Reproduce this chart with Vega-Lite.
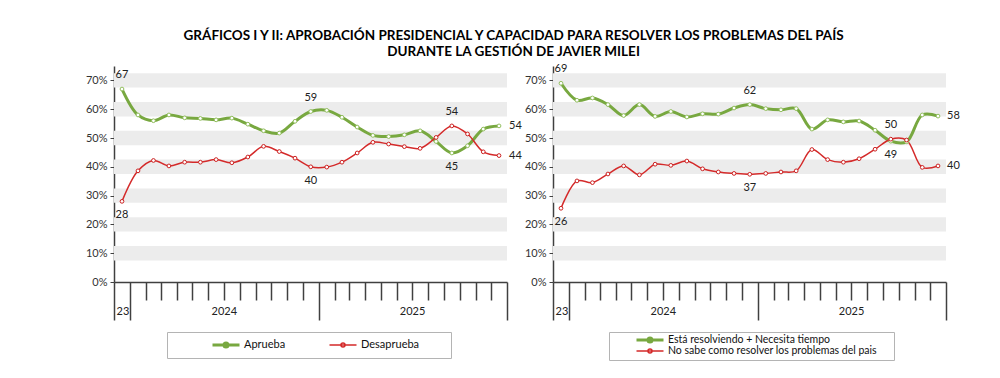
{
  "$schema": "https://vega.github.io/schema/vega-lite/v6.json",
  "padding": {"left": 85, "top": 28, "right": 5, "bottom": 5},
  "title": {
    "text": ["GRÁFICOS I Y II: APROBACIÓN PRESIDENCIAL Y CAPACIDAD PARA RESOLVER LOS PROBLEMAS DEL PAÍS", "DURANTE LA GESTIÓN DE JAVIER MILEI"],
    "font": "Lato", "fontSize": 13.5, "fontWeight": "bold", "color": "#000", "anchor": "middle", "lineHeight": 16, "offset": 5, "dx": -9
  },
  "config": {"view": {"stroke": null}, "text": {"font": "Lato"},
    "axisY": {"values": [0, 10, 20, 30, 40, 50, 60, 70], "labelExpr": "datum.value + '%'", "grid": false, "labelOverlap": false,
      "domainColor": "#404040", "domainWidth": 1.5, "tickColor": "#404040", "tickWidth": 1, "tickSize": 4,
      "labelPadding": 3, "labelFont": "Lato", "labelFontSize": 11, "labelColor": "#333", "title": null}},
  "resolve": {"scale": {"color": "independent", "stroke": "independent", "strokeWidth": "independent", "x": "independent", "y": "independent"}, "legend": {"color": "independent"}},
  "spacing": 2,
  "hconcat": [
    {
      "width": 393, "height": 216,
      "data": {"values": [
        {"fecha": "2023-12-01", "serie": "Aprueba", "valor": 67},
        {"fecha": "2024-01-01", "serie": "Aprueba", "valor": 58},
        {"fecha": "2024-02-01", "serie": "Aprueba", "valor": 56},
        {"fecha": "2024-03-01", "serie": "Aprueba", "valor": 58},
        {"fecha": "2024-04-01", "serie": "Aprueba", "valor": 57},
        {"fecha": "2024-05-01", "serie": "Aprueba", "valor": 56.8},
        {"fecha": "2024-06-01", "serie": "Aprueba", "valor": 56.3},
        {"fecha": "2024-07-01", "serie": "Aprueba", "valor": 56.9},
        {"fecha": "2024-08-01", "serie": "Aprueba", "valor": 54.8},
        {"fecha": "2024-09-01", "serie": "Aprueba", "valor": 52.5},
        {"fecha": "2024-10-01", "serie": "Aprueba", "valor": 51.7},
        {"fecha": "2024-11-01", "serie": "Aprueba", "valor": 55.8},
        {"fecha": "2024-12-01", "serie": "Aprueba", "valor": 59.2},
        {"fecha": "2025-01-01", "serie": "Aprueba", "valor": 59.6},
        {"fecha": "2025-02-01", "serie": "Aprueba", "valor": 57.2},
        {"fecha": "2025-03-01", "serie": "Aprueba", "valor": 53.8},
        {"fecha": "2025-04-01", "serie": "Aprueba", "valor": 50.9},
        {"fecha": "2025-05-01", "serie": "Aprueba", "valor": 50.5},
        {"fecha": "2025-06-01", "serie": "Aprueba", "valor": 51.1},
        {"fecha": "2025-07-01", "serie": "Aprueba", "valor": 52.5},
        {"fecha": "2025-08-01", "serie": "Aprueba", "valor": 48.8},
        {"fecha": "2025-09-01", "serie": "Aprueba", "valor": 44.8},
        {"fecha": "2025-10-01", "serie": "Aprueba", "valor": 47.3},
        {"fecha": "2025-11-01", "serie": "Aprueba", "valor": 53.1},
        {"fecha": "2025-12-01", "serie": "Aprueba", "valor": 54.2},
        {"fecha": "2023-12-01", "serie": "Desaprueba", "valor": 28},
        {"fecha": "2024-01-01", "serie": "Desaprueba", "valor": 38.6},
        {"fecha": "2024-02-01", "serie": "Desaprueba", "valor": 42.2},
        {"fecha": "2024-03-01", "serie": "Desaprueba", "valor": 40.3},
        {"fecha": "2024-04-01", "serie": "Desaprueba", "valor": 41.6},
        {"fecha": "2024-05-01", "serie": "Desaprueba", "valor": 41.6},
        {"fecha": "2024-06-01", "serie": "Desaprueba", "valor": 42.5},
        {"fecha": "2024-07-01", "serie": "Desaprueba", "valor": 41.4},
        {"fecha": "2024-08-01", "serie": "Desaprueba", "valor": 43.4},
        {"fecha": "2024-09-01", "serie": "Desaprueba", "valor": 47.1},
        {"fecha": "2024-10-01", "serie": "Desaprueba", "valor": 45.3},
        {"fecha": "2024-11-01", "serie": "Desaprueba", "valor": 43},
        {"fecha": "2024-12-01", "serie": "Desaprueba", "valor": 40},
        {"fecha": "2025-01-01", "serie": "Desaprueba", "valor": 39.9},
        {"fecha": "2025-02-01", "serie": "Desaprueba", "valor": 41.6},
        {"fecha": "2025-03-01", "serie": "Desaprueba", "valor": 44.8},
        {"fecha": "2025-04-01", "serie": "Desaprueba", "valor": 48.5},
        {"fecha": "2025-05-01", "serie": "Desaprueba", "valor": 47.9},
        {"fecha": "2025-06-01", "serie": "Desaprueba", "valor": 47},
        {"fecha": "2025-07-01", "serie": "Desaprueba", "valor": 46.4},
        {"fecha": "2025-08-01", "serie": "Desaprueba", "valor": 50.2},
        {"fecha": "2025-09-01", "serie": "Desaprueba", "valor": 54.2},
        {"fecha": "2025-10-01", "serie": "Desaprueba", "valor": 51.4},
        {"fecha": "2025-11-01", "serie": "Desaprueba", "valor": 45.2},
        {"fecha": "2025-12-01", "serie": "Desaprueba", "valor": 43.9}
      ]},
      "layer": [
        {
          "data": {"values": [
            {"lo": 7.5, "hi": 12.5}, {"lo": 17.5, "hi": 22.5}, {"lo": 27.5, "hi": 32.5}, {"lo": 37.5, "hi": 42.5},
            {"lo": 47.5, "hi": 52.5}, {"lo": 57.5, "hi": 62.5}, {"lo": 67.5, "hi": 72.5}
          ]},
          "mark": {"type": "rect", "color": "#ececec"},
          "encoding": {
            "y": {"field": "lo", "type": "quantitative", "title": null, "scale": {"domain": [0, 75], "nice": false}},
            "y2": {"field": "hi"}
          }
        },
        {
          "mark": {"type": "line", "interpolate": "catmull-rom"},
          "encoding": {
            "x": {"field": "fecha", "type": "temporal", "timeUnit": "utcyearmonth", "bandPosition": 0.5, "title": null,
              "scale": {"type": "utc", "domain": [{"year": 2023, "month": 12, "date": 1, "utc": true}, {"year": 2026, "month": 1, "date": 1, "utc": true}]},
              "axis": {"tickCount": {"interval": "month", "step": 1}, "grid": false,
                "domainColor": "#404040", "domainWidth": 1.5, "tickColor": "#404040", "tickWidth": 1.5,
                "tickSize": {"condition": {"test": "utcmonth(datum.value)==0 || utcyear(datum.value)==2023", "value": 38}, "value": 18},
                "labelExpr": "utcyear(datum.value)==2023 ? '23' : (utcmonth(datum.value)==6 ? utcFormat(datum.value,'%Y') : '')",
                "labelAlign": {"condition": {"test": "utcyear(datum.value)==2023", "value": "left"}, "value": "center"},
                "labelOffset": {"condition": {"test": "utcyear(datum.value)==2023", "value": 2}, "value": 0},
                "labelPadding": {"condition": {"test": "utcyear(datum.value)==2023", "value": -15}, "value": 5},
                "labelOverlap": false, "labelFlush": false, "labelBound": false,
                "labelFont": "Lato", "labelFontSize": 11, "labelColor": "#222"}},
            "y": {"field": "valor", "type": "quantitative", "title": null},
            "color": {"field": "serie", "type": "nominal",
              "scale": {"domain": ["Aprueba", "Desaprueba"], "range": ["#78a840", "#d42a2a"]},
              "legend": {"orient": "none", "legendX": 53, "legendY": 266, "direction": "horizontal", "columns": 2, "title": null,
                "symbolType": "M-1,0L1,0M0.15,0A0.15,0.15,0,1,1,-0.15,0A0.15,0.15,0,1,1,0.15,0",
                "symbolSize": 729, "symbolStrokeWidth": 2, "labelFont": "Lato", "labelFontSize": 11, "labelColor": "#111", "labelLimit": 400,
                "strokeColor": "#b4b4b4", "padding": 7, "symbolOffset": 37, "columnPadding": 5, "labelOffset": 3, "clipHeight": 12,
                "labelExpr": "datum.label == 'Desaprueba' ? datum.label + '\u2800\u2800\u2800' : datum.label",
                "encode": {"symbols": {"update": {"strokeWidth": {"signal": "datum.value == 'Aprueba' ? 2.5 : 1.5"}, "fill": {"value": "white"}}}}}},
            "strokeWidth": {"field": "serie", "type": "nominal", "scale": {"domain": ["Aprueba", "Desaprueba"], "range": [3, 1.5]}, "legend": null}
          }
        },
        {
          "mark": {"type": "point", "filled": true, "fill": "white", "size": 14, "strokeWidth": 1, "opacity": 1},
          "encoding": {
            "x": {"field": "fecha", "type": "temporal", "timeUnit": "utcyearmonth", "bandPosition": 0.5},
            "y": {"field": "valor", "type": "quantitative"},
            "stroke": {"field": "serie", "type": "nominal", "scale": {"domain": ["Aprueba", "Desaprueba"], "range": ["#93bf5f", "#cc2020"]}, "legend": null}
          }
        },
        {
          "data": {"values": [
            {"fecha": "2023-12-01", "valor": 67, "texto": "67", "pos": "arriba"},
            {"fecha": "2024-12-01", "valor": 59.2, "texto": "59", "pos": "arriba"},
            {"fecha": "2025-09-01", "valor": 54.2, "texto": "54", "pos": "arriba"},
            {"fecha": "2023-12-01", "valor": 28, "texto": "28", "pos": "abajo"},
            {"fecha": "2024-12-01", "valor": 40, "texto": "40", "pos": "abajo"},
            {"fecha": "2025-09-01", "valor": 44.8, "texto": "45", "pos": "abajo"},
            {"fecha": "2025-12-01", "valor": 54.2, "texto": "54", "pos": "derecha"},
            {"fecha": "2025-12-01", "valor": 43.9, "texto": "44", "pos": "derecha"}
          ]},
          "layer": [
            {"transform": [{"filter": "datum.pos == 'arriba'"}],
             "mark": {"type": "text", "dy": -14, "font": "Lato", "fontSize": 11, "color": "#222", "baseline": "middle"},
             "encoding": {"x": {"field": "fecha", "type": "temporal", "timeUnit": "utcyearmonth", "bandPosition": 0.5}, "y": {"field": "valor", "type": "quantitative"}, "text": {"field": "texto"}}},
            {"transform": [{"filter": "datum.pos == 'abajo'"}],
             "mark": {"type": "text", "dy": 14, "font": "Lato", "fontSize": 11, "color": "#222", "baseline": "middle"},
             "encoding": {"x": {"field": "fecha", "type": "temporal", "timeUnit": "utcyearmonth", "bandPosition": 0.5}, "y": {"field": "valor", "type": "quantitative"}, "text": {"field": "texto"}}},
            {"transform": [{"filter": "datum.pos == 'derecha'"}],
             "mark": {"type": "text", "dx": 10, "align": "left", "font": "Lato", "fontSize": 11, "color": "#222", "baseline": "middle"},
             "encoding": {"x": {"field": "fecha", "type": "temporal", "timeUnit": "utcyearmonth", "bandPosition": 0.5}, "y": {"field": "valor", "type": "quantitative"}, "text": {"field": "texto"}}}
          ]
        }
      ]
    },
    {
      "width": 393, "height": 216,
      "data": {"values": [
        {"fecha": "2023-12-01", "serie": "Está resolviendo + Necesita tiempo", "valor": 69},
        {"fecha": "2024-01-01", "serie": "Está resolviendo + Necesita tiempo", "valor": 63.1},
        {"fecha": "2024-02-01", "serie": "Está resolviendo + Necesita tiempo", "valor": 63.9},
        {"fecha": "2024-03-01", "serie": "Está resolviendo + Necesita tiempo", "valor": 61.6},
        {"fecha": "2024-04-01", "serie": "Está resolviendo + Necesita tiempo", "valor": 57.8},
        {"fecha": "2024-05-01", "serie": "Está resolviendo + Necesita tiempo", "valor": 61.6},
        {"fecha": "2024-06-01", "serie": "Está resolviendo + Necesita tiempo", "valor": 57.5},
        {"fecha": "2024-07-01", "serie": "Está resolviendo + Necesita tiempo", "valor": 59.2},
        {"fecha": "2024-08-01", "serie": "Está resolviendo + Necesita tiempo", "valor": 57.3},
        {"fecha": "2024-09-01", "serie": "Está resolviendo + Necesita tiempo", "valor": 58.4},
        {"fecha": "2024-10-01", "serie": "Está resolviendo + Necesita tiempo", "valor": 58.3},
        {"fecha": "2024-11-01", "serie": "Está resolviendo + Necesita tiempo", "valor": 60.4},
        {"fecha": "2024-12-01", "serie": "Está resolviendo + Necesita tiempo", "valor": 61.6},
        {"fecha": "2025-01-01", "serie": "Está resolviendo + Necesita tiempo", "valor": 60.2},
        {"fecha": "2025-02-01", "serie": "Está resolviendo + Necesita tiempo", "valor": 59.8},
        {"fecha": "2025-03-01", "serie": "Está resolviendo + Necesita tiempo", "valor": 60.2},
        {"fecha": "2025-04-01", "serie": "Está resolviendo + Necesita tiempo", "valor": 53.1},
        {"fecha": "2025-05-01", "serie": "Está resolviendo + Necesita tiempo", "valor": 56.3},
        {"fecha": "2025-06-01", "serie": "Está resolviendo + Necesita tiempo", "valor": 55.6},
        {"fecha": "2025-07-01", "serie": "Está resolviendo + Necesita tiempo", "valor": 55.9},
        {"fecha": "2025-08-01", "serie": "Está resolviendo + Necesita tiempo", "valor": 52.7},
        {"fecha": "2025-09-01", "serie": "Está resolviendo + Necesita tiempo", "valor": 48.9},
        {"fecha": "2025-10-01", "serie": "Está resolviendo + Necesita tiempo", "valor": 48.7},
        {"fecha": "2025-11-01", "serie": "Está resolviendo + Necesita tiempo", "valor": 58},
        {"fecha": "2025-12-01", "serie": "Está resolviendo + Necesita tiempo", "valor": 57.6},
        {"fecha": "2023-12-01", "serie": "No sabe como  resolver los problemas  del pais", "valor": 25.6},
        {"fecha": "2024-01-01", "serie": "No sabe como  resolver los problemas  del pais", "valor": 35.1},
        {"fecha": "2024-02-01", "serie": "No sabe como  resolver los problemas  del pais", "valor": 34.5},
        {"fecha": "2024-03-01", "serie": "No sabe como  resolver los problemas  del pais", "valor": 37.5},
        {"fecha": "2024-04-01", "serie": "No sabe como  resolver los problemas  del pais", "valor": 40.3},
        {"fecha": "2024-05-01", "serie": "No sabe como  resolver los problemas  del pais", "valor": 37.2},
        {"fecha": "2024-06-01", "serie": "No sabe como  resolver los problemas  del pais", "valor": 40.9},
        {"fecha": "2024-07-01", "serie": "No sabe como  resolver los problemas  del pais", "valor": 40.5},
        {"fecha": "2024-08-01", "serie": "No sabe como  resolver los problemas  del pais", "valor": 42},
        {"fecha": "2024-09-01", "serie": "No sabe como  resolver los problemas  del pais", "valor": 39.3},
        {"fecha": "2024-10-01", "serie": "No sabe como  resolver los problemas  del pais", "valor": 38.2},
        {"fecha": "2024-11-01", "serie": "No sabe como  resolver los problemas  del pais", "valor": 37.7},
        {"fecha": "2024-12-01", "serie": "No sabe como  resolver los problemas  del pais", "valor": 37.4},
        {"fecha": "2025-01-01", "serie": "No sabe como  resolver los problemas  del pais", "valor": 37.7},
        {"fecha": "2025-02-01", "serie": "No sabe como  resolver los problemas  del pais", "valor": 38.2},
        {"fecha": "2025-03-01", "serie": "No sabe como  resolver los problemas  del pais", "valor": 38.6},
        {"fecha": "2025-04-01", "serie": "No sabe como  resolver los problemas  del pais", "valor": 46},
        {"fecha": "2025-05-01", "serie": "No sabe como  resolver los problemas  del pais", "valor": 42.5},
        {"fecha": "2025-06-01", "serie": "No sabe como  resolver los problemas  del pais", "valor": 41.6},
        {"fecha": "2025-07-01", "serie": "No sabe como  resolver los problemas  del pais", "valor": 42.8},
        {"fecha": "2025-08-01", "serie": "No sabe como  resolver los problemas  del pais", "valor": 46.1},
        {"fecha": "2025-09-01", "serie": "No sabe como  resolver los problemas  del pais", "valor": 49.6},
        {"fecha": "2025-10-01", "serie": "No sabe como  resolver los problemas  del pais", "valor": 49.3},
        {"fecha": "2025-11-01", "serie": "No sabe como  resolver los problemas  del pais", "valor": 39.8},
        {"fecha": "2025-12-01", "serie": "No sabe como  resolver los problemas  del pais", "valor": 40.3}
      ]},
      "layer": [
        {
          "data": {"values": [
            {"lo": 7.5, "hi": 12.5}, {"lo": 17.5, "hi": 22.5}, {"lo": 27.5, "hi": 32.5}, {"lo": 37.5, "hi": 42.5},
            {"lo": 47.5, "hi": 52.5}, {"lo": 57.5, "hi": 62.5}, {"lo": 67.5, "hi": 72.5}
          ]},
          "mark": {"type": "rect", "color": "#ececec"},
          "encoding": {
            "y": {"field": "lo", "type": "quantitative", "title": null, "scale": {"domain": [0, 75], "nice": false}},
            "y2": {"field": "hi"}
          }
        },
        {
          "mark": {"type": "line", "interpolate": "catmull-rom"},
          "encoding": {
            "x": {"field": "fecha", "type": "temporal", "timeUnit": "utcyearmonth", "bandPosition": 0.5, "title": null,
              "scale": {"type": "utc", "domain": [{"year": 2023, "month": 12, "date": 1, "utc": true}, {"year": 2026, "month": 1, "date": 1, "utc": true}]},
              "axis": {"tickCount": {"interval": "month", "step": 1}, "grid": false,
                "domainColor": "#404040", "domainWidth": 1.5, "tickColor": "#404040", "tickWidth": 1.5,
                "tickSize": {"condition": {"test": "utcmonth(datum.value)==0 || utcyear(datum.value)==2023", "value": 38}, "value": 18},
                "labelExpr": "utcyear(datum.value)==2023 ? '23' : (utcmonth(datum.value)==6 ? utcFormat(datum.value,'%Y') : '')",
                "labelAlign": {"condition": {"test": "utcyear(datum.value)==2023", "value": "left"}, "value": "center"},
                "labelOffset": {"condition": {"test": "utcyear(datum.value)==2023", "value": 2}, "value": 0},
                "labelPadding": {"condition": {"test": "utcyear(datum.value)==2023", "value": -15}, "value": 5},
                "labelOverlap": false, "labelFlush": false, "labelBound": false,
                "labelFont": "Lato", "labelFontSize": 11, "labelColor": "#222"}},
            "y": {"field": "valor", "type": "quantitative", "title": null},
            "color": {"field": "serie", "type": "nominal",
              "scale": {"domain": ["Está resolviendo + Necesita tiempo", "No sabe como  resolver los problemas  del pais"], "range": ["#78a840", "#d42a2a"]},
              "legend": {"orient": "none", "legendX": 56, "legendY": 266, "direction": "vertical", "columns": 1, "title": null,
                "symbolType": "M-1,0L1,0M0.15,0A0.15,0.15,0,1,1,-0.15,0A0.15,0.15,0,1,1,0.15,0",
                "symbolSize": 729, "symbolStrokeWidth": 2, "labelFont": "Lato", "labelFontSize": 10.5, "labelColor": "#111", "labelLimit": 400,
                "strokeColor": "#b4b4b4", "padding": 3, "symbolOffset": 23, "rowPadding": -3, "labelOffset": 3, "clipHeight": 10,
                "labelExpr": "indexof(datum.label, 'No sabe') == 0 ? datum.label + '\u2800' : datum.label",
                "encode": {"symbols": {"update": {"strokeWidth": {"signal": "indexof(datum.value, 'Está') == 0 ? 2.5 : 1.5"}, "fill": {"value": "white"}}}}}},
            "strokeWidth": {"field": "serie", "type": "nominal", "scale": {"domain": ["Está resolviendo + Necesita tiempo", "No sabe como  resolver los problemas  del pais"], "range": [3, 1.5]}, "legend": null}
          }
        },
        {
          "mark": {"type": "point", "filled": true, "fill": "white", "size": 14, "strokeWidth": 1, "opacity": 1},
          "encoding": {
            "x": {"field": "fecha", "type": "temporal", "timeUnit": "utcyearmonth", "bandPosition": 0.5},
            "y": {"field": "valor", "type": "quantitative"},
            "stroke": {"field": "serie", "type": "nominal", "scale": {"domain": ["Está resolviendo + Necesita tiempo", "No sabe como  resolver los problemas  del pais"], "range": ["#93bf5f", "#cc2020"]}, "legend": null}
          }
        },
        {
          "data": {"values": [
            {"fecha": "2023-12-01", "valor": 69, "texto": "69", "pos": "arriba"},
            {"fecha": "2024-12-01", "valor": 61.6, "texto": "62", "pos": "arriba"},
            {"fecha": "2025-09-01", "valor": 49.6, "texto": "50", "pos": "arriba"},
            {"fecha": "2023-12-01", "valor": 25.6, "texto": "26", "pos": "abajo"},
            {"fecha": "2024-12-01", "valor": 37.4, "texto": "37", "pos": "abajo"},
            {"fecha": "2025-09-01", "valor": 48.9, "texto": "49", "pos": "abajo"},
            {"fecha": "2025-12-01", "valor": 57.6, "texto": "58", "pos": "derecha"},
            {"fecha": "2025-12-01", "valor": 40.3, "texto": "40", "pos": "derecha"}
          ]},
          "layer": [
            {"transform": [{"filter": "datum.pos == 'arriba'"}],
             "mark": {"type": "text", "dy": -14, "font": "Lato", "fontSize": 11, "color": "#222", "baseline": "middle"},
             "encoding": {"x": {"field": "fecha", "type": "temporal", "timeUnit": "utcyearmonth", "bandPosition": 0.5}, "y": {"field": "valor", "type": "quantitative"}, "text": {"field": "texto"}}},
            {"transform": [{"filter": "datum.pos == 'abajo'"}],
             "mark": {"type": "text", "dy": 14, "font": "Lato", "fontSize": 11, "color": "#222", "baseline": "middle"},
             "encoding": {"x": {"field": "fecha", "type": "temporal", "timeUnit": "utcyearmonth", "bandPosition": 0.5}, "y": {"field": "valor", "type": "quantitative"}, "text": {"field": "texto"}}},
            {"transform": [{"filter": "datum.pos == 'derecha'"}],
             "mark": {"type": "text", "dx": 9, "align": "left", "font": "Lato", "fontSize": 11, "color": "#222", "baseline": "middle"},
             "encoding": {"x": {"field": "fecha", "type": "temporal", "timeUnit": "utcyearmonth", "bandPosition": 0.5}, "y": {"field": "valor", "type": "quantitative"}, "text": {"field": "texto"}}}
          ]
        }
      ]
    }
  ]
}
